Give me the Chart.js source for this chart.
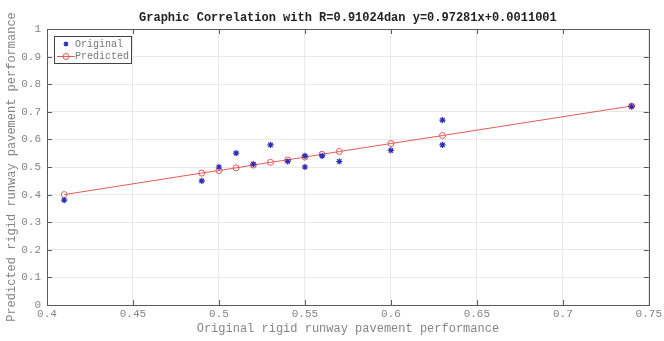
<!DOCTYPE html>
<html>
<head>
<meta charset="utf-8">
<script src="https://cdn.jsdelivr.net/npm/chart.js@4.4.1/dist/chart.umd.min.js"></script>
<style>
  html, body { margin: 0; padding: 0; background: #ffffff; }
  #wrap { width: 664px; height: 341px; position: relative; }
</style>
</head>
<body>
<div id="wrap"><canvas id="c" width="664" height="341"></canvas></div>
<script>
// ---- data ----
const chartTitle = "Graphic Correlation with R=0.91024dan y=0.97281x+0.0011001";
const xAxisTitle = "Original rigid runway pavement performance";
const yAxisTitle = "Predicted rigid runway pavement performance";

const originalX = [0.41, 0.49, 0.50, 0.51, 0.52, 0.53, 0.54, 0.55, 0.55, 0.56, 0.57, 0.60, 0.63, 0.63, 0.74];
const originalY = [0.38, 0.45, 0.50, 0.55, 0.51, 0.58, 0.52, 0.54, 0.50, 0.54, 0.52, 0.56, 0.67, 0.58, 0.72];

const predictedX = [0.41, 0.49, 0.50, 0.51, 0.52, 0.53, 0.54, 0.55, 0.56, 0.57, 0.60, 0.63, 0.74];
const predictedY = [0.400, 0.478, 0.487, 0.497, 0.507, 0.517, 0.526, 0.536, 0.546, 0.556, 0.585, 0.614, 0.721];

const xTicks = [0.4, 0.45, 0.5, 0.55, 0.6, 0.65, 0.7, 0.75];
const yTicks = [0, 0.1, 0.2, 0.3, 0.4, 0.5, 0.6, 0.7, 0.8, 0.9, 1];

const seriesNames = ["Original", "Predicted"];

// ---- styles ----
const MONO = "'Liberation Mono', 'DejaVu Sans Mono', monospace";
const BLUE = "#2c2cb4";
const RED = "#e05a5a";
const AXIS = "#5a5a5a";
const TXT = "#858585";

const origPts = originalX.map((x, i) => ({ x: x, y: originalY[i] }));
const predPts = predictedX.map((x, i) => ({ x: x, y: predictedY[i] }));

const boxPlugin = {
  id: 'boxPlugin',
  afterDraw(chart) {
    const ctx = chart.ctx;
    const a = chart.chartArea;
    const xs = chart.scales.x, ys = chart.scales.y;
    ctx.save();
    ctx.strokeStyle = AXIS;
    ctx.lineWidth = 1;
    ctx.strokeRect(Math.round(a.left) + 0.5, Math.round(a.top) + 0.5,
                   Math.round(a.right - a.left), Math.round(a.bottom - a.top));
    const tl = 5;
    ctx.beginPath();
    xTicks.forEach(v => {
      const px = Math.round(xs.getPixelForValue(v)) + 0.5;
      ctx.moveTo(px, a.bottom); ctx.lineTo(px, a.bottom - tl);
      ctx.moveTo(px, a.top); ctx.lineTo(px, a.top + tl);
    });
    yTicks.forEach(v => {
      const py = Math.round(ys.getPixelForValue(v)) + 0.5;
      ctx.moveTo(a.left, py); ctx.lineTo(a.left + tl, py);
      ctx.moveTo(a.right, py); ctx.lineTo(a.right - tl, py);
    });
    ctx.stroke();

    // title
    ctx.fillStyle = "#222222";
    ctx.font = "bold 12px " + MONO;
    ctx.textAlign = "center";
    ctx.textBaseline = "middle";
    ctx.fillText(chartTitle, (a.left + a.right) / 2, 18);

    // legend box
    const lx = 54, ly = 36, lw = 77, lh = 27;
    ctx.fillStyle = "#ffffff";
    ctx.fillRect(lx, ly, lw, lh);
    ctx.strokeStyle = "#444444";
    ctx.strokeRect(lx + 0.5, ly + 0.5, lw, lh);
    ctx.font = "10px " + MONO;
    ctx.textAlign = "left";
    ctx.fillStyle = "#777777";
    ctx.fillText(seriesNames[0], 75, 44);
    ctx.fillText(seriesNames[1], 75, 56);
    // marker original
    ctx.strokeStyle = BLUE; ctx.lineWidth = 1.2;
    const mx = 66, my = 44, r = 2.5;
    ctx.beginPath();
    ctx.moveTo(mx - r, my); ctx.lineTo(mx + r, my);
    ctx.moveTo(mx, my - r); ctx.lineTo(mx, my + r);
    ctx.moveTo(mx - r * 0.7, my - r * 0.7); ctx.lineTo(mx + r * 0.7, my + r * 0.7);
    ctx.moveTo(mx - r * 0.7, my + r * 0.7); ctx.lineTo(mx + r * 0.7, my - r * 0.7);
    ctx.stroke();
    // marker predicted
    ctx.strokeStyle = RED; ctx.lineWidth = 1;
    ctx.beginPath(); ctx.moveTo(57, 56.5); ctx.lineTo(75, 56.5); ctx.stroke();
    ctx.beginPath(); ctx.arc(66, 56.5, 3, 0, Math.PI * 2); ctx.stroke();
    ctx.restore();
  }
};

new Chart(document.getElementById('c'), {
  type: 'scatter',
  data: {
    datasets: [
      {
        label: seriesNames[1],
        data: predPts,
        showLine: true,
        borderColor: RED,
        borderWidth: 1,
        backgroundColor: 'rgba(0,0,0,0)',
        pointStyle: 'circle',
        pointRadius: 3,
        pointBorderColor: RED,
        pointBorderWidth: 1,
        pointBackgroundColor: 'rgba(0,0,0,0)',
        order: 2
      },
      {
        label: seriesNames[0],
        data: origPts,
        showLine: false,
        pointStyle: 'star',
        pointRadius: 3.1,
        pointBorderColor: BLUE,
        pointBackgroundColor: BLUE,
        pointBorderWidth: 1.2,
        order: 1
      }
    ]
  },
  options: {
    responsive: false,
    animation: false,
    devicePixelRatio: 1,
    layout: { padding: { top: 29, right: 0, left: 0, bottom: 0 } },
    plugins: {
      legend: { display: false },
      title: { display: false },
      tooltip: { enabled: false }
    },
    scales: {
      x: {
        type: 'linear',
        min: 0.4, max: 0.75,
        afterFit(s) { s.height = 36; },
        afterBuildTicks(s) { s.ticks = xTicks.map(v => ({ value: v })); },
        grid: { color: '#e9e9e9', drawTicks: false, lineWidth: 1 },
        border: { display: false },
        ticks: {
          padding: 2,
          color: TXT,
          font: { family: MONO, size: 11 },
          callback: v => String(parseFloat(v.toFixed(2)))
        },
        title: {
          display: true, text: xAxisTitle, color: TXT,
          font: { family: MONO, size: 12 },
          padding: { top: 0, bottom: 5 }
        }
      },
      y: {
        type: 'linear',
        min: 0, max: 1,
        afterFit(s) { s.width = 47; },
        afterBuildTicks(s) { s.ticks = yTicks.map(v => ({ value: v })); },
        grid: { color: '#e9e9e9', drawTicks: false, lineWidth: 1 },
        border: { display: false },
        ticks: {
          padding: 6,
          color: TXT,
          font: { family: MONO, size: 11 },
          callback: v => String(parseFloat(v.toFixed(2)))
        },
        title: {
          display: true, text: yAxisTitle, color: TXT,
          font: { family: MONO, size: 12 },
          padding: { top: 5, bottom: 0 }
        }
      }
    }
  },
  plugins: [boxPlugin]
});
</script>
</body>
</html>
